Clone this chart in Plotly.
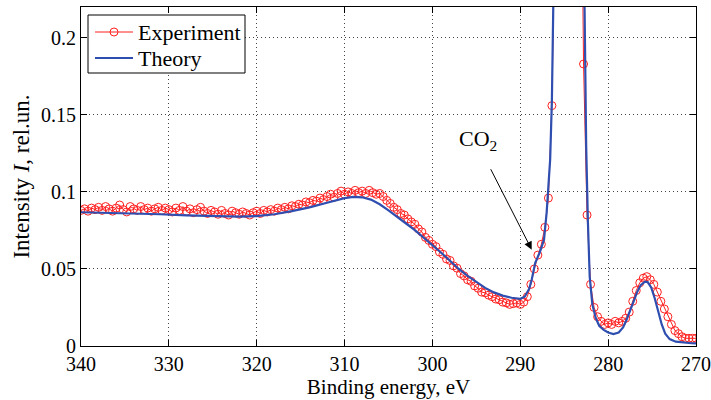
import plotly.graph_objects as go

# ---------------- data ----------------
exp_start = 340.0
exp_step = 0.4
exp_intensity = [
    # 340.0 -> 330.4
    0.0880, 0.0890, 0.0875, 0.0895, 0.0885, 0.0900, 0.0880, 0.0905, 0.0890, 0.0875,
    0.0895, 0.0915, 0.0885, 0.0870, 0.0905, 0.0890, 0.0880, 0.0905, 0.0885, 0.0895,
    0.0875, 0.0890, 0.0900, 0.0880, 0.0895,
    # 330.0 -> 325.2
    0.0885, 0.0870, 0.0895, 0.0880, 0.0905, 0.0875, 0.0890, 0.0865, 0.0885, 0.0900,
    0.0875, 0.0860, 0.0880,
    # 324.8 -> 320.0
    0.0870, 0.0855, 0.0880, 0.0860, 0.0850, 0.0875, 0.0865, 0.0855, 0.0870, 0.0860,
    0.0850, 0.0865, 0.0875,
    # 319.6 -> 315.2
    0.0860, 0.0880, 0.0870, 0.0885, 0.0875, 0.0895, 0.0885, 0.0900, 0.0890, 0.0910,
    0.0905, 0.0920,
    # 314.8 -> 310.0
    0.0915, 0.0935, 0.0930, 0.0945, 0.0940, 0.0960, 0.0950, 0.0970, 0.0985, 0.0965,
    0.0990, 0.1005, 0.0985,
    # 309.6 -> 305.2
    0.1000, 0.0990, 0.1010, 0.0995, 0.1005, 0.0990, 0.1010, 0.0995, 0.0985, 0.0990,
    0.0970, 0.0945,
    # 304.8 -> 290.0
    0.0925, 0.0900, 0.0885, 0.0860, 0.0850, 0.0825, 0.0805, 0.0790, 0.0760, 0.0740,
    0.0705, 0.0685, 0.0660, 0.0645, 0.0610, 0.0595, 0.0565, 0.0555, 0.0520, 0.0505,
    0.0470, 0.0455, 0.0430, 0.0420, 0.0390, 0.0375, 0.0350, 0.0345, 0.0330, 0.0320,
    0.0305, 0.0300, 0.0285, 0.0280, 0.0270, 0.0275, 0.0280, 0.0270,
    # 289.6 -> 286.4
    0.0285, 0.0320, 0.0400, 0.0500, 0.0590, 0.0660, 0.0770, 0.0960, 0.1560,
    # 286.0 -> 283.2 (main peak, off scale)
    0.30, 0.50, 0.70, 0.85, 0.90, 0.85, 0.70, 0.40,
    # 282.8 -> 270.0
    0.1830, 0.0850, 0.0400, 0.0250, 0.0190, 0.0160, 0.0140, 0.0150, 0.0140, 0.0160,
    0.0150, 0.0160, 0.0180, 0.0220, 0.0290, 0.0360, 0.0410, 0.0440, 0.0450, 0.0430,
    0.0400, 0.0350, 0.0290, 0.0240, 0.0190, 0.0140, 0.0100, 0.0080, 0.0060, 0.0050,
    0.0050, 0.0050, 0.0050,
]
exp_energy = [round(exp_start - exp_step * i, 1) for i in range(len(exp_intensity))]

theory_energy = [
    340, 337, 334, 331, 328, 325, 322, 320, 318, 316, 314, 312, 310, 309, 308, 307,
    306, 305, 304, 303, 302, 301, 300, 299, 298, 297, 296, 295, 294, 293, 292, 291,
    290, 289.5, 289, 288.7, 288.3, 287.8, 287.3, 287.0, 286.6, 286.4, 286.2, 286.0,
    285.5, 285.0, 284.5, 284.0, 283.5, 283.0, 282.7, 282.5, 282.3, 282.1, 281.8,
    281.4, 281.0, 280.5, 280.0, 279.4, 278.8, 278.3, 277.9, 277.5, 277.1, 276.7,
    276.3, 275.8, 275.5, 275.1, 274.7, 274.3, 273.9, 273.5, 273.0, 272.3, 271.5,
    270.5, 270.0,
]
theory_intensity = [
    0.0868, 0.0865, 0.0860, 0.0855, 0.0848, 0.0842, 0.0840, 0.0843, 0.0855, 0.0875,
    0.0900, 0.0930, 0.0960, 0.0968, 0.0965, 0.0950, 0.0920, 0.0880, 0.0840, 0.0795,
    0.0752, 0.0705, 0.0658, 0.0605, 0.0553, 0.0500, 0.0455, 0.0413, 0.0377, 0.0348,
    0.0327, 0.0313, 0.0306, 0.0320, 0.0370, 0.0430, 0.0540, 0.0605, 0.0690, 0.0866,
    0.1210, 0.1600, 0.2500, 0.3200, 0.5500, 0.8000, 0.9000, 0.8500, 0.6200, 0.3600,
    0.2000, 0.1300, 0.0800, 0.0450, 0.0270, 0.0180, 0.0130, 0.0105, 0.0088, 0.0078,
    0.0088, 0.0120, 0.0170, 0.0230, 0.0300, 0.0350, 0.0395, 0.0418, 0.0415, 0.0380,
    0.0310, 0.0220, 0.0140, 0.0080, 0.0045, 0.0028, 0.0022, 0.0018, 0.0017,
]

x_ticks = [340, 330, 320, 310, 300, 290, 280, 270]
y_ticks = [0, 0.05, 0.1, 0.15, 0.2]
y_tick_text = ["0", "0.05", "0.1", "0.15", "0.2"]

series_names = ["Experiment", "Theory"]
series_colors = ["#ff2020", "#2f4fb0"]

# ---------------- figure ----------------
FONT = "Liberation Serif"
W, H = 711, 400
ML, MR, MT, MB = 81, 15, 7, 54
PW, PH = W - ML - MR, H - MT - MB


def px_x(p):  # pixel column -> paper x
    return (p - ML) / PW


def px_y(p):  # pixel row -> paper y
    return (H - MB - p) / PH


fig = go.Figure()
fig.add_trace(go.Scatter(
    x=exp_energy, y=exp_intensity, name=series_names[0],
    mode="lines+markers",
    line=dict(color=series_colors[0], width=1),
    marker=dict(symbol="circle-open", size=8, color=series_colors[0], line=dict(width=1)),
    showlegend=False,
))
fig.add_trace(go.Scatter(
    x=theory_energy, y=theory_intensity, name=series_names[1],
    mode="lines",
    line=dict(color=series_colors[1], width=2.2),
    showlegend=False,
))

axis_common = dict(
    showline=True, linecolor="black", linewidth=1, mirror="ticks",
    ticks="inside", ticklen=6, tickcolor="black",
    showgrid=True, gridcolor="#444444", griddash="1px,3px", gridwidth=1,
    zeroline=False, automargin=False,
    ticklabeloverflow="allow",
    tickfont=dict(family=FONT, size=20, color="black"),
)

fig.update_xaxes(
    range=[340, 270], tickvals=x_ticks,
    title=dict(text="Binding energy, eV", font=dict(family=FONT, size=21, color="black"), standoff=0),
    **axis_common,
)
fig.update_yaxes(
    range=[0, 0.22], tickvals=y_ticks, ticktext=y_tick_text,
    title=dict(text="Intensity <i>I</i>, rel.un.", font=dict(family=FONT, size=23, color="black"), standoff=4),
    **axis_common,
)

# CO2 label with arrow
fig.add_annotation(
    x=288.7, y=0.0625, ax=293.45, ay=0.1157, xref="x", yref="y", axref="x", ayref="y",
    text="", showarrow=True, arrowhead=2, arrowsize=1.6, arrowwidth=1, arrowcolor="black",
)
fig.add_annotation(
    x=294.8, y=0.134, xref="x", yref="y", text="CO<sub>2</sub>", showarrow=False,
    font=dict(family=FONT, size=22, color="black"),
)

# legend box (drawn to match the compact MATLAB-style legend)
fig.add_shape(type="rect", xref="paper", yref="paper",
              x0=px_x(88), x1=px_x(245), y0=px_y(73), y1=px_y(15),
              line=dict(color="black", width=1), fillcolor="white", layer="above")
row_y = [32, 58]
for i, name in enumerate(series_names):
    fig.add_shape(type="line", xref="paper", yref="paper",
                  x0=px_x(95), x1=px_x(133), y0=px_y(row_y[i]), y1=px_y(row_y[i]),
                  line=dict(color=series_colors[i], width=1 if i == 0 else 2.2), layer="above")
    fig.add_annotation(x=px_x(136), y=px_y(row_y[i]), xref="paper", yref="paper",
                       text=name, showarrow=False, xanchor="left", yanchor="middle",
                       font=dict(family=FONT, size=22, color="black"))
fig.add_shape(type="circle", xref="paper", yref="paper",
              x0=px_x(110), x1=px_x(118), y0=px_y(row_y[0] + 4), y1=px_y(row_y[0] - 4),
              line=dict(color=series_colors[0], width=1), fillcolor="rgba(0,0,0,0)", layer="above")

fig.update_layout(
    width=W, height=H,
    margin=dict(l=ML, r=MR, t=MT, b=MB),
    paper_bgcolor="white", plot_bgcolor="white",
    font=dict(family=FONT, size=20, color="black"),
    showlegend=False,
)

fig.write_html("out.html", config={"displayModeBar": False},
               post_script="document.body.style.margin='0px';")
